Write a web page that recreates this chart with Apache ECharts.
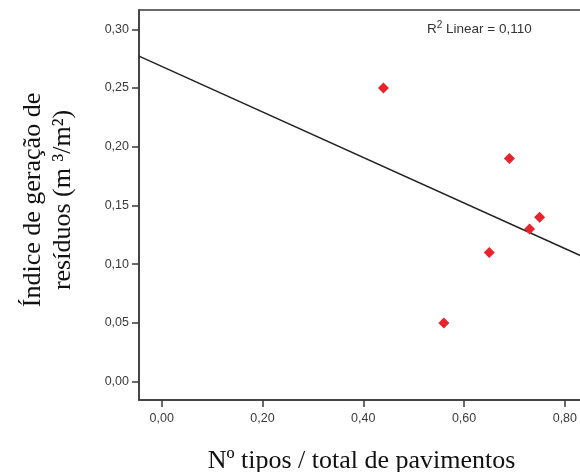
<!DOCTYPE html>
<html>
<head>
<meta charset="utf-8">
<script src="https://cdn.jsdelivr.net/npm/echarts@6/dist/echarts.min.js"></script>
<style>
  html, body { margin: 0; padding: 0; background: #fff; }
  #chart { width: 580px; height: 472px; }
</style>
</head>
<body>
<div id="chart"></div>
<script>
// Observations: floor-type ratio vs. waste generation index
const ratioValues = [0.44, 0.56, 0.65, 0.69, 0.73, 0.75];
const wasteIndex = [0.25, 0.05, 0.11, 0.19, 0.13, 0.14];

// Tick positions for both axes
const xTicks = [0.0, 0.2, 0.4, 0.6, 0.8];
const yTicks = [0.0, 0.05, 0.10, 0.15, 0.20, 0.25, 0.30];

const xRange = [-0.045, 0.838];
const yRange = [-0.0156, 0.3164];

// Ordinary least-squares fit through the observations
function linearFit(xs, ys) {
  const n = xs.length;
  const mx = xs.reduce((a, b) => a + b, 0) / n;
  const my = ys.reduce((a, b) => a + b, 0) / n;
  let sxy = 0, sxx = 0, syy = 0;
  for (let i = 0; i < n; i++) {
    sxy += (xs[i] - mx) * (ys[i] - my);
    sxx += (xs[i] - mx) ** 2;
    syy += (ys[i] - my) ** 2;
  }
  const slope = sxy / sxx;
  return { slope, intercept: my - slope * mx, r2: (sxy * sxy) / (sxx * syy) };
}
const fit = linearFit(ratioValues, wasteIndex);
const fitLine = xRange.map(x => [x, fit.intercept + fit.slope * x]);

const comma = (v, d) => v.toFixed(d).replace('.', ',');

const axisColor = '#3a3a3a';
const tickFont = { fontFamily: 'Liberation Sans, Arial, sans-serif', fontSize: 12.5, color: '#3a3a3a' };
const titleFont = { fontFamily: 'Liberation Serif, Times New Roman, serif', fontSize: 26, color: '#111' };
const noteFont = 'Liberation Sans, Arial, sans-serif';

const chart = echarts.init(document.getElementById('chart'), null, { renderer: 'canvas' });
chart.setOption({
  animation: false,
  backgroundColor: '#fff',
  grid: {
    left: 139, top: 10, width: 445, height: 390,
    outerBoundsMode: 'none', containLabel: false,
    show: true, borderColor: axisColor, borderWidth: 1.5, backgroundColor: 'transparent'
  },
  xAxis: {
    type: 'value',
    min: xRange[0], max: xRange[1],
    splitLine: { show: false },
    axisLine: { show: true, onZero: false, lineStyle: { color: axisColor, width: 1.5 } },
    axisTick: { show: true, length: 7, customValues: xTicks, lineStyle: { color: axisColor, width: 1.5 } },
    axisLabel: Object.assign({ customValues: xTicks, margin: 12, formatter: v => comma(v, 2) }, tickFont),
    name: 'Nº tipos / total de pavimentos',
    nameLocation: 'middle',
    nameGap: 48,
    nameTextStyle: titleFont
  },
  yAxis: {
    type: 'value',
    min: yRange[0], max: yRange[1],
    splitLine: { show: false },
    axisLine: { show: true, onZero: false, lineStyle: { color: axisColor, width: 1.5 } },
    axisTick: { show: true, length: 7, customValues: yTicks, lineStyle: { color: axisColor, width: 1.5 } },
    axisLabel: Object.assign({ customValues: yTicks, margin: 10, formatter: v => comma(v, 2) }, tickFont),
    name: 'Índice de geração de\nresíduos (m ³/m²)',
    nameLocation: 'middle',
    nameRotate: 90,
    nameGap: 61,
    nameTextStyle: Object.assign({ lineHeight: 30, padding: [0, 0, 0, 10] }, titleFont)
  },
  series: [
    {
      type: 'line',
      data: fitLine,
      symbol: 'none',
      lineStyle: { color: '#222', width: 1.5 },
      silent: true,
      z: 1
    },
    {
      type: 'scatter',
      data: ratioValues.map((x, i) => [x, wasteIndex[i]]),
      symbol: 'diamond',
      symbolSize: 11,
      itemStyle: { color: '#e8232b', opacity: 1 },
      z: 2
    }
  ],
  graphic: [
    {
      type: 'text',
      left: 427, top: 20,
      style: {
        text: '{t|R}{s|2}{t| Linear = ' + comma(fit.r2, 3) + '}',
        rich: {
          t: { fontFamily: noteFont, fontSize: 13.5, fill: '#333', verticalAlign: 'bottom' },
          s: { fontFamily: noteFont, fontSize: 10, fill: '#333', verticalAlign: 'top', padding: [0, 0, 6, 0] }
        }
      }
    }
  ]
});
</script>
</body>
</html>
